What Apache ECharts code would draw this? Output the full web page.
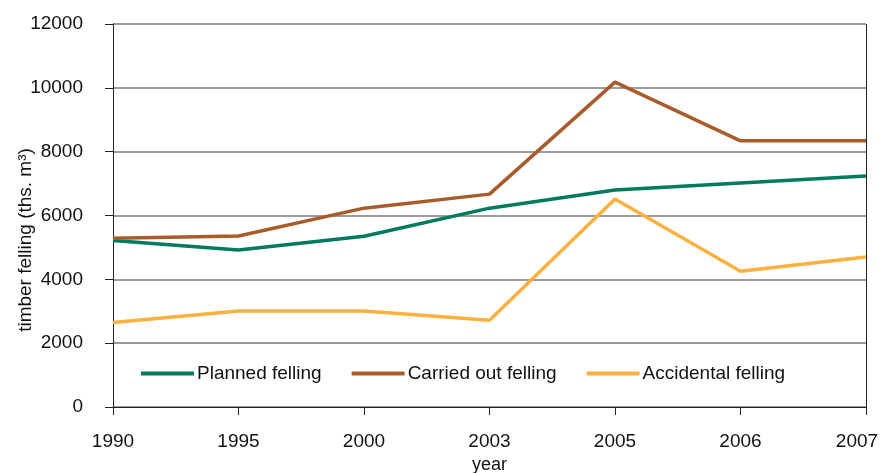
<!DOCTYPE html>
<html>
<head>
<meta charset="utf-8">
<script src="https://cdn.jsdelivr.net/npm/echarts@6/dist/echarts.min.js"></script>
<style>
  html, body { margin: 0; padding: 0; background: #fff; }
  #chart { width: 882px; height: 473px; }
</style>
</head>
<body>
<div id="chart"></div>
<script>
  var years = ['1990', '1995', '2000', '2003', '2005', '2006', '2007']
  var planned = [5220, 4920, 5350, 6230, 6800, 7020, 7240]
  var carriedOut = [5290, 5360, 6230, 6670, 10180, 8340, 8340]
  var accidental = [2650, 3010, 3010, 2720, 6520, 4250, 4700]
  var yTicks = [0, 2000, 4000, 6000, 8000, 10000, 12000]

  var font = '"Liberation Sans Narrow", "Liberation Sans", Arial, sans-serif'
  var chart = echarts.init(document.getElementById('chart'))

  function line(name, data, color) {
    return {
      name: name,
      type: 'line',
      data: data,
      symbol: 'none',
      lineStyle: { color: color, width: 3.5 },
      itemStyle: { color: color }
    }
  }

  var option = {
    animation: false,
    textStyle: { fontFamily: font },
    grid: { left: 113, right: 16, top: 24, bottom: 66, outerBoundsMode: 'none', containLabel: false },
    legend: {
      left: 136, top: 359,
      itemWidth: 53, itemHeight: 4, itemGap: 30,
      icon: 'rect',
      textStyle: { fontSize: 19, color: '#111', fontFamily: font, padding: [0, 0, 0, -2] },
      data: ['Planned felling', 'Carried out felling', 'Accidental felling']
    },
    xAxis: {
      type: 'category',
      data: years,
      boundaryGap: false,
      name: 'year',
      nameLocation: 'middle',
      nameGap: 48,
      nameTextStyle: { fontSize: 18, color: '#111' },
      axisLine: { lineStyle: { color: '#222', width: 1 } },
      axisTick: { show: true, length: 8, alignWithLabel: true, lineStyle: { color: '#222' } },
      axisLabel: {
        fontSize: 19, color: '#111', margin: 25,
        formatter: function (v, i) { return i === years.length - 1 ? '{last|' + v + '}' : v },
        rich: { last: { fontSize: 19, color: '#111', fontFamily: font, padding: [0, 18, 0, 0] } }
      },
      splitLine: { show: true, lineStyle: { color: '#222', width: 1 }, interval: function (i) { return i === years.length - 1 } }
    },
    yAxis: {
      type: 'value',
      min: yTicks[0],
      max: yTicks[yTicks.length - 1],
      interval: 2000,
      name: 'timber felling (ths. m³)',
      nameLocation: 'middle',
      nameGap: 78,
      nameMoveOverlap: false,
      nameTextStyle: { fontSize: 19, color: '#111', padding: [0, 49, 0, 0] },
      axisLine: { show: true, lineStyle: { color: '#222', width: 1 } },
      axisTick: { show: true, length: 8, lineStyle: { color: '#222' } },
      axisLabel: { fontSize: 19, color: '#111', margin: 30, formatter: function (v) { return String(v) } },
      splitLine: { show: true, lineStyle: { color: '#7a7a7a', width: 1.5 } }
    },
    series: [
      line('Planned felling', planned, '#007a5e'),
      line('Carried out felling', carriedOut, '#a85b2b'),
      line('Accidental felling', accidental, '#fbb040')
    ]
  }
  chart.setOption(option)
</script>
</body>
</html>
